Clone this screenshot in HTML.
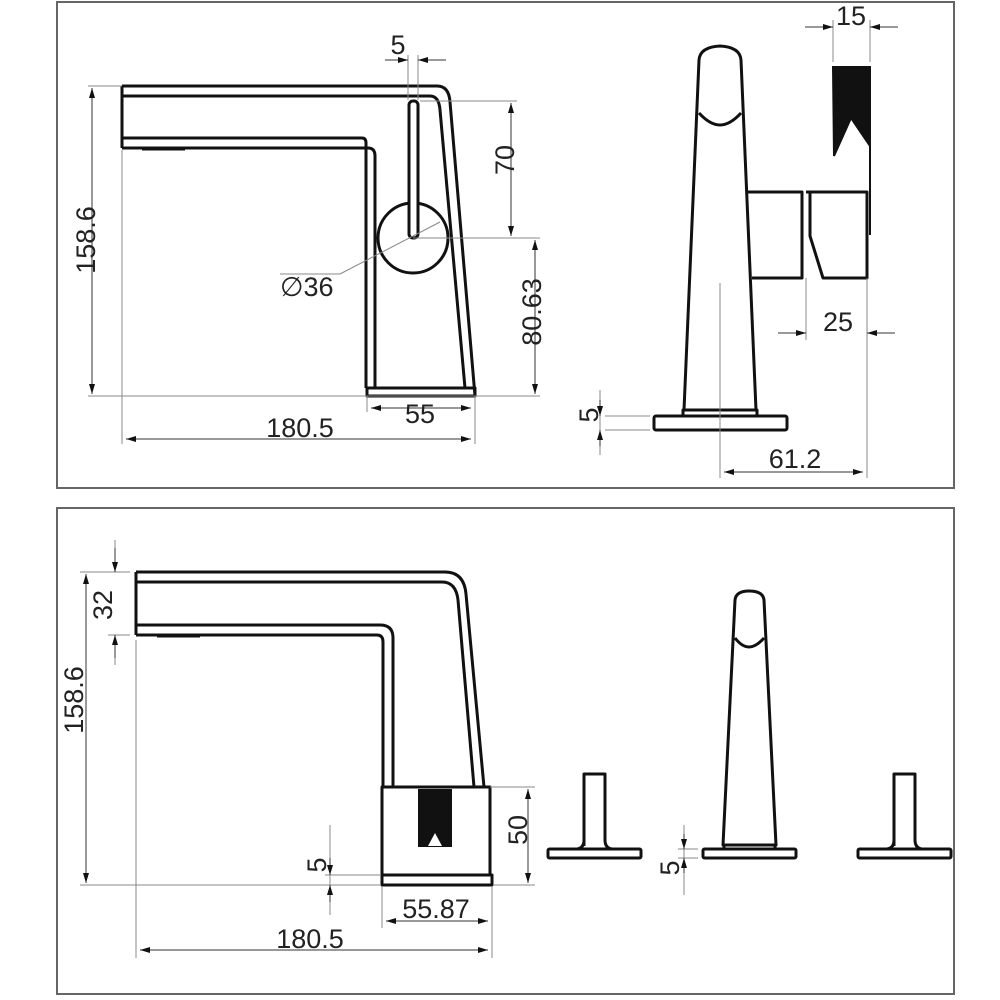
<!DOCTYPE html>
<html><head><meta charset="utf-8"><style>
html,body{margin:0;padding:0;background:#fff;}
svg{display:block;}
text{font-family:"Liberation Sans","DejaVu Sans",sans-serif;fill:#222;}
</style></head><body>
<svg width="1000" height="1000" viewBox="0 0 1000 1000" xmlns="http://www.w3.org/2000/svg">
<defs>
<marker id="a" viewBox="0 0 10 6" refX="10" refY="3" markerWidth="10" markerHeight="6" orient="auto-start-reverse" markerUnits="userSpaceOnUse"><path d="M0,0L10,3L0,6z" fill="#111"/></marker>
</defs>
<rect width="1000" height="1000" fill="#fff"/>
<g fill="none" stroke="#666" stroke-width="2">
<rect x="57" y="2" width="897" height="486"/>
<rect x="57" y="508" width="897" height="486"/>
</g>

<!-- ===== TOP LEFT ===== -->
<g fill="none" stroke="#111" stroke-width="3" stroke-linejoin="round">
<path d="M122,86 H437 Q449,86 450,102 L475,396"/>
<path d="M122,96 H430 Q439,96 440,110 L465,388"/>
<path d="M122,86 V148"/>
<path d="M122,138 H362 Q366,138 366,143 V388"/>
<path d="M122,148 H368 Q375,148 375,156 V388"/>
<rect x="367" y="388" width="108" height="8"/>
<circle cx="413" cy="238" r="35" fill="#fff"/>
<rect x="409" y="101" width="9" height="137" rx="4" fill="#fff"/>
</g>
<path d="M142,149 H185" stroke="#111" stroke-width="3"/>
<g stroke="#888" stroke-width="1" fill="none">
<path d="M88,86 H122 M88,396 H540 M122,150 V444 M475,396 V444 M367,396 V412 M408,55 V100 M418,55 V100 M420,101 H517 M413,238 H540"/>
<path d="M340,274 L440,222"/>
<path d="M280,274 H340"/>
</g>
<g stroke="#333" stroke-width="1" fill="none">
<path d="M92,88 V394" marker-start="url(#a)" marker-end="url(#a)"/>
<path d="M126,439 H471" marker-start="url(#a)" marker-end="url(#a)"/>
<path d="M371,408 H471" marker-start="url(#a)" marker-end="url(#a)"/>
<path d="M511,103 V236" marker-start="url(#a)" marker-end="url(#a)"/>
<path d="M535,240 V394" marker-start="url(#a)" marker-end="url(#a)"/>
<path d="M385,60 H408" marker-end="url(#a)"/>
<path d="M446,60 H418" marker-end="url(#a)"/>
</g>
<g font-size="27">
<text x="0" y="0" transform="translate(95,240) rotate(-90)" text-anchor="middle">158.6</text>
<text x="300" y="437" text-anchor="middle">180.5</text>
<text x="420" y="423" text-anchor="middle">55</text>
<text x="398" y="54" text-anchor="middle">5</text>
<text x="0" y="0" transform="translate(514,160) rotate(-90)" text-anchor="middle">70</text>
<text x="0" y="0" transform="translate(541,312) rotate(-90)" text-anchor="middle">80.63</text>
<text x="280" y="296">∅36</text>
</g>

<!-- ===== TOP RIGHT ===== -->
<g fill="none" stroke="#111" stroke-width="3" stroke-linejoin="round">
<path d="M699,60 Q700,47 720,46 Q740,47 741,60 L756,410 H684 Z" fill="#fff"/>
<path d="M699,113 Q710,125 720,125 Q730,125 741,113"/>
<rect x="683" y="410" width="74" height="6"/>
<rect x="654" y="416" width="133" height="14" rx="2" fill="#fff"/>
<path d="M748,192 H802 V278 H752"/>
<path d="M806,192 H867 V278 H823 L810,236 V192"/>
</g>
<path d="M833,67 H870 V146 L851,118 L834,156 Z" fill="#111" stroke="#111" stroke-width="2"/>
<path d="M870,146 V235" stroke="#111" stroke-width="2"/>
<g stroke="#888" stroke-width="1" fill="none">
<path d="M833,20 V62 M870,20 V62 M806,278 V340 M867,278 V478 M720,283 V478 M605,416 H650 M605,430 H650 M600,390 V455"/>
</g>
<g stroke="#333" stroke-width="1" fill="none">
<path d="M805,27 H833" marker-end="url(#a)"/>
<path d="M898,27 H870" marker-end="url(#a)"/>
<path d="M778,333 H806" marker-end="url(#a)"/>
<path d="M895,333 H867" marker-end="url(#a)"/>
<path d="M724,472 H863" marker-start="url(#a)" marker-end="url(#a)"/>
<path d="M600,400 V416" marker-end="url(#a)"/>
<path d="M600,446 V430" marker-end="url(#a)"/>
</g>
<g font-size="27">
<text x="851" y="25" text-anchor="middle">15</text>
<text x="838" y="331" text-anchor="middle">25</text>
<text x="795" y="468" text-anchor="middle">61.2</text>
<text x="0" y="0" transform="translate(598,415) rotate(-90)" text-anchor="middle">5</text>
</g>

<!-- ===== BOTTOM LEFT ===== -->
<g fill="none" stroke="#111" stroke-width="3" stroke-linejoin="round">
<path d="M136,572 H445 Q464,572 466,594 L484,787"/>
<path d="M136,582 H442 Q456,582 458,600 L474,787"/>
<path d="M136,572 V635"/>
<path d="M136,625 H380 Q393,625 393,638 V787"/>
<path d="M136,635 H377 Q383,635 383,642 V787"/>
<rect x="382" y="787" width="108" height="88" fill="#fff"/>
<rect x="382" y="875" width="110" height="10"/>
</g>
<path d="M157,636 H200" stroke="#111" stroke-width="3"/>
<rect x="418" y="789" width="34" height="58" fill="#111"/>
<path d="M428,846 L435,833 L442,846 Z" fill="#fff"/>
<g stroke="#888" stroke-width="1" fill="none">
<path d="M80,572 H130 M108,635 H130 M80,885 H380 M493,885 H535 M490,787 H535 M325,875 H380 M330,825 V915 M382,887 V928 M492,887 V958 M136,640 V958 M115,540 V572 M115,635 V665"/>
</g>
<g stroke="#333" stroke-width="1" fill="none">
<path d="M115,548 V572" marker-end="url(#a)"/>
<path d="M115,658 V635" marker-end="url(#a)"/>
<path d="M86,574 V883" marker-start="url(#a)" marker-end="url(#a)"/>
<path d="M528,789 V883" marker-start="url(#a)" marker-end="url(#a)"/>
<path d="M330,858 V875" marker-end="url(#a)"/>
<path d="M330,902 V885" marker-end="url(#a)"/>
<path d="M386,921 H488" marker-start="url(#a)" marker-end="url(#a)"/>
<path d="M140,950 H488" marker-start="url(#a)" marker-end="url(#a)"/>
</g>
<g font-size="27">
<text x="0" y="0" transform="translate(112,605) rotate(-90)" text-anchor="middle">32</text>
<text x="0" y="0" transform="translate(83,700) rotate(-90)" text-anchor="middle">158.6</text>
<text x="0" y="0" transform="translate(527,830) rotate(-90)" text-anchor="middle">50</text>
<text x="0" y="0" transform="translate(326,865) rotate(-90)" text-anchor="middle">5</text>
<text x="436" y="918" text-anchor="middle">55.87</text>
<text x="310" y="948" text-anchor="middle">180.5</text>
</g>

<!-- ===== BOTTOM RIGHT ===== -->
<g fill="none" stroke="#111" stroke-width="3" stroke-linejoin="round">
<path d="M735,600 Q736,591 749,591 Q763,591 764,600 L776,845 H723 Z" fill="#fff"/>
<path d="M735,638 Q742,647 749,647 Q756,647 764,638"/>
<rect x="724" y="845" width="51" height="4"/>
<rect x="703" y="849" width="93" height="9" rx="1.5" fill="#fff"/>
<path d="M584,846 V774 H605 V840 Q605,848 612,849"/>
<path d="M584,840 Q584,848 577,849"/>
<rect x="548" y="849" width="93" height="9" rx="1.5"/>
<path d="M894,846 V774 H915 V840 Q915,848 922,849"/>
<path d="M894,840 Q894,848 887,849"/>
<rect x="858" y="849" width="93" height="9" rx="1.5"/>
</g>
<g stroke="#888" stroke-width="1" fill="none">
<path d="M678,849 H698 M678,858 H698 M684,825 V895"/>
</g>
<g stroke="#333" stroke-width="1" fill="none">
<path d="M684,834 V849" marker-end="url(#a)"/>
<path d="M684,873 V858" marker-end="url(#a)"/>
</g>
<text x="0" y="0" transform="translate(679,868) rotate(-90)" text-anchor="middle" font-size="27">5</text>
</svg>
</body></html>
